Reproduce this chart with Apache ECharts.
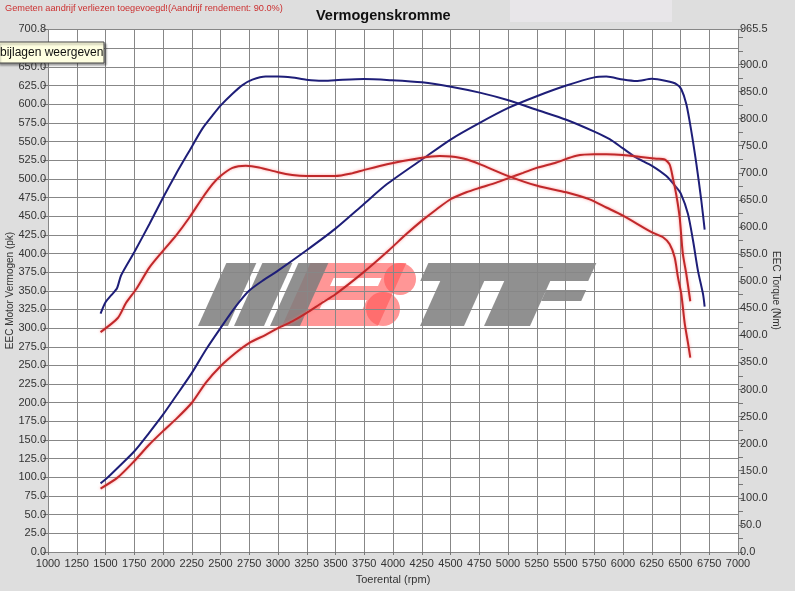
<!DOCTYPE html>
<html>
<head>
<meta charset="utf-8">
<script src="https://cdn.jsdelivr.net/npm/echarts@6/dist/echarts.min.js"></script>
<style>
  html, body { margin: 0; padding: 0; background: #dedede; }
  #chart { width: 795px; height: 591px; }
</style>
</head>
<body>
<div id="chart"></div>
<script>
// blauw = getuned, rood = standaard. vermogen (pk) links, koppel (Nm) rechts
const bluePowerRpm = [1457, 1506, 1607, 1751, 1881, 2000, 2113, 2251, 2373, 2500, 2633, 2748, 2880, 3000, 3246, 3497, 3745, 3948, 4252, 4504, 4754, 5003, 5255, 5507, 5751, 5855, 6000, 6116, 6252, 6377, 6464, 6507, 6551, 6594, 6638, 6681, 6710]
const bluePower = [92, 98, 113, 135, 160, 184, 209, 240, 271, 300, 329, 350, 365, 377, 404, 433, 466, 493, 526, 553, 575, 595, 611, 625, 636, 637, 633, 631, 634, 631, 627, 620, 600, 564, 520, 471, 432]

const blueTorqueRpm = [1457, 1500, 1550, 1600, 1636, 1751, 1881, 2000, 2113, 2228, 2344, 2431, 2500, 2604, 2691, 2777, 2893, 3000, 3124, 3246, 3384, 3497, 3745, 3971, 4252, 4504, 4754, 5003, 5255, 5507, 5751, 5884, 6000, 6116, 6252, 6377, 6464, 6504, 6565, 6609, 6652, 6696, 6710]
const blueTorque = [440, 461, 474, 487, 511, 554, 605, 654, 698, 740, 782, 806, 824, 846, 862, 872, 878, 878, 876, 872, 870, 871, 873, 871, 867, 859, 848, 834, 816, 798, 776, 762, 745, 728, 713, 694, 673, 661, 624, 575, 519, 476, 453]

const redPowerRpm = [1457, 1607, 1751, 1881, 2000, 2113, 2251, 2373, 2500, 2633, 2748, 2893, 3000, 3124, 3246, 3384, 3497, 3745, 3962, 4116, 4252, 4377, 4504, 4638, 4754, 4899, 5003, 5131, 5255, 5420, 5594, 5751, 5855, 6000, 6174, 6290, 6363, 6406, 6435, 6464, 6493, 6520, 6551, 6585]
const redPower = [85, 100, 122, 144, 162, 178, 200, 227, 249, 267, 280, 291, 300, 309, 320, 334, 345, 375, 404, 426, 444, 459, 473, 482, 488, 495, 501, 508, 515, 522, 531, 533, 533, 532, 529, 527, 526, 519, 500, 478, 448, 400, 372, 336]

const redTorqueRpm = [1457, 1607, 1679, 1766, 1881, 2000, 2113, 2228, 2344, 2431, 2500, 2604, 2720, 2835, 3000, 3124, 3246, 3497, 3644, 3745, 3948, 4252, 4406, 4504, 4638, 4754, 5003, 5255, 5507, 5710, 5855, 6000, 6252, 6348, 6406, 6449, 6478, 6507, 6536, 6565, 6585]
const redTorque = [406, 432, 460, 485, 525, 556, 584, 617, 654, 679, 694, 709, 713, 710, 701, 696, 694, 694, 699, 705, 716, 728, 731, 730, 725, 716, 694, 676, 664, 651, 636, 621, 590, 581, 568, 544, 507, 476, 423, 386, 359]

// as-instellingen
const rpmMin = 1000, rpmMax = 7000, rpmStep = 250
const pkMax = 700.8, pkStep = 25
const nmMax = 965.5, nmStep = 25

const pairs = (xs, ys) => xs.map((x, i) => [x, ys[i]])

const blue = '#1e1e78'
const red = '#c0282a'
const labelFont = { color: '#333', fontSize: 11, fontFamily: 'Liberation Sans' }

const chart = echarts.init(document.getElementById('chart'))

const lineSeries = (name, data, color, yAxisIndex, glow) => ({
  type: 'line',
  name: name,
  yAxisIndex: yAxisIndex,
  data: data,
  showSymbol: false,
  smooth: 0.25,
  z: 5,
  lineStyle: {
    color: color,
    width: 2,
    shadowColor: glow,
    shadowBlur: glow ? 3 : 0
  }
})

// schuine vlakken voor het watermerk (alleen decoratie)
const slant = 0.45, logoTop = 263, logoBottom = 326
const skew = (x0, x1, y0, y1) => ({
  points: [
    [x0 + (logoBottom - y0) * slant, y0], [x1 + (logoBottom - y0) * slant, y0],
    [x1 + (logoBottom - y1) * slant, y1], [x0 + (logoBottom - y1) * slant, y1]
  ]
})
const grey = 'rgba(125,125,125,0.85)'
const pink = 'rgba(255,85,85,0.62)'
const logoPart = (x0, x1, y0, y1, fill) => ({ type: 'polygon', shape: skew(x0, x1, y0, y1), style: { fill: fill } })

chart.setOption({
  backgroundColor: '#dedede',
  animation: false,
  title: {
    text: 'Vermogenskromme',
    left: 311,
    top: 3,
    textStyle: { fontSize: 14.5, fontWeight: 'bold', color: '#111', fontFamily: 'Liberation Sans' }
  },
  grid: { left: 48, right: 57, top: 29, bottom: 39, outerBoundsMode: 'none', show: true, backgroundColor: '#fff', borderWidth: 0 },
  xAxis: {
    type: 'value',
    min: rpmMin,
    max: rpmMax,
    interval: rpmStep,
    name: 'Toerental (rpm)',
    nameLocation: 'middle',
    nameGap: 22,
    nameMoveOverlap: false,
    nameTextStyle: labelFont,
    axisLine: { show: false },
    axisTick: { show: true, length: 3, lineStyle: { color: '#777' } },
    axisLabel: Object.assign({ margin: 6, formatter: v => String(v) }, labelFont),
    splitLine: { show: true, lineStyle: { color: '#878787', width: 1 } }
  },
  yAxis: [
    {
      type: 'value',
      min: 0,
      max: pkMax,
      interval: pkStep,
      name: 'EEC Motor Vermogen (pk)',
      nameLocation: 'middle',
      nameGap: 33,
      nameMoveOverlap: false,
      nameTextStyle: { color: '#333', fontSize: 10, fontFamily: 'Liberation Sans' },
      axisLine: { show: false },
      axisTick: { show: true, length: 5, lineStyle: { color: '#777' } },
      axisLabel: Object.assign({
        margin: 2,
        showMaxLabel: true,
        formatter: v => (v === 700 ? '' : v.toFixed(1))
      }, labelFont),
      splitLine: { show: true, lineStyle: { color: '#878787', width: 1 } }
    },
    {
      type: 'value',
      min: 0,
      max: nmMax,
      interval: nmStep,
      position: 'right',
      name: 'EEC Torque (Nm)',
      nameLocation: 'middle',
      nameRotate: -90,
      nameGap: 33,
      nameMoveOverlap: false,
      nameTextStyle: { color: '#333', fontSize: 10, fontFamily: 'Liberation Sans' },
      axisLine: { show: false },
      axisTick: { show: true, length: 5, lineStyle: { color: '#777' } },
      axisLabel: Object.assign({
        margin: 2,
        showMaxLabel: true,
        formatter: v => ((v % 50 === 0 && v !== 950) || v === nmMax ? v.toFixed(1) : '')
      }, labelFont),
      splitLine: { show: false }
    }
  ],
  graphic: [
    // lichter vlak naast de titel
    { type: 'rect', z: -1, shape: { x: 510, y: 0, width: 162, height: 22 }, style: { fill: '#e8e6e9' } },
    {
      type: 'text', x: 5, y: 8,
      style: {
        text: 'Gemeten aandrijf verliezen toegevoegd!(Aandrijf rendement: 90.0%)',
        fill: '#cc3030', fontSize: 9.2, fontFamily: 'Liberation Sans', verticalAlign: 'middle'
      }
    },
    // watermerk logo
    {
      type: 'group', z: 1,
      children: [
        logoPart(198, 228, logoTop, logoBottom, grey),
        logoPart(234, 264, logoTop, logoBottom, grey),
        { type: 'polygon', shape: skew(282, 378, logoTop, logoBottom), style: { fill: pink } },
        { type: 'circle', shape: { cx: 400, cy: 279, r: 16 }, style: { fill: pink } },
        { type: 'circle', shape: { cx: 383, cy: 309, r: 17 }, style: { fill: pink } },
        logoPart(312, 360, 278, 286, '#fff'),
        logoPart(312, 355, 300, 310, '#fff'),
        logoPart(270, 300, logoTop, logoBottom, grey),
        logoPart(400, 568, logoTop, 281, grey),
        logoPart(420, 464, 281, logoBottom, grey),
        logoPart(484, 530, 281, logoBottom, grey),
        logoPart(530, 570, 290, 301, grey)
      ]
    },
    // tooltip-vakje linksboven
    {
      type: 'rect', z: 20,
      shape: { x: -2, y: 42, width: 106, height: 21 },
      style: { fill: '#ffffe1', stroke: '#444', lineWidth: 1, shadowColor: 'rgba(0,0,0,0.35)', shadowBlur: 2, shadowOffsetX: 2, shadowOffsetY: 2 }
    },
    {
      type: 'text', z: 21, x: 0, y: 53,
      style: { text: 'bijlagen weergeven', fill: '#111', fontSize: 12, fontFamily: 'Liberation Sans', verticalAlign: 'middle' }
    }
  ],
  series: [
    lineSeries('Vermogen getuned', pairs(bluePowerRpm, bluePower), blue, 0, null),
    lineSeries('Koppel getuned', pairs(blueTorqueRpm, blueTorque), blue, 1, null),
    lineSeries('Vermogen standaard', pairs(redPowerRpm, redPower), red, 0, 'rgba(255,110,110,0.7)'),
    lineSeries('Koppel standaard', pairs(redTorqueRpm, redTorque), red, 1, 'rgba(255,110,110,0.7)')
  ]
})
</script>
</body>
</html>
